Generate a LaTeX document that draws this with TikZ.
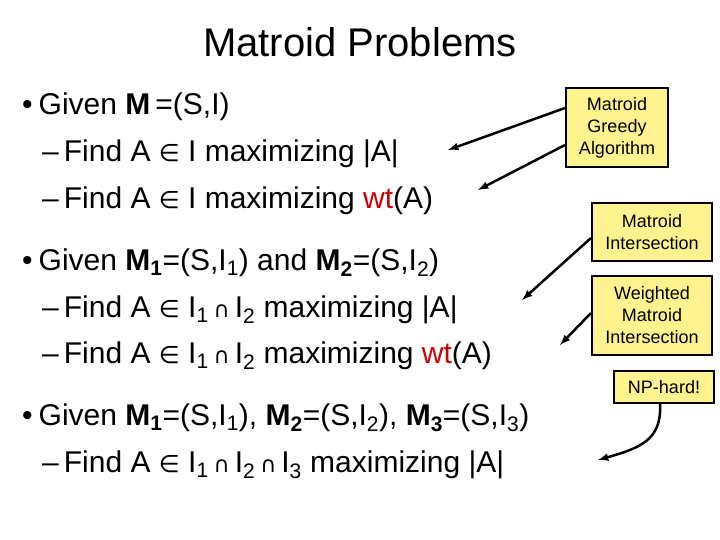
\documentclass[tikz,border=0pt]{standalone}
\usepackage{fontspec}
\setmainfont{Liberation Sans}
\newfontfamily\symf{DejaVu Sans}
\newcommand{\inn}{{\symf\fontsize{24}{26}\selectfont ∈}}
\newcommand{\cp}{{\symf\fontsize{22}{26}\selectfont ∩}}
\newcommand{\sub}[1]{\textsubscript{#1}}
\begin{document}
\begin{tikzpicture}[x=1pt,y=-1pt,
  line/.style={anchor=base west,inner sep=0pt,font=\fontsize{30}{32}\selectfont},
  box/.style={draw=black,line width=2pt,fill=yellow!40!white!95!orange,font=\fontsize{18}{22}\selectfont,align=center,inner sep=3pt},
  arr/.style={-latex,line width=2.5pt}]
\useasboundingbox[fill=white] (0,0) rectangle (720,540);
\node[anchor=base,font=\fontsize{40}{42}\selectfont] (title) at (360,57) {Matroid Problems};
\node[line] (l1) at (22,115) {•\hspace{6pt}Given \textbf{M}\,=(S,I)};
\node[line] (l2) at (42,162) {–\,Find A \inn\ I maximizing |A|};
\node[line] (l3) at (42,208) {–\,Find A \inn\ I maximizing \textcolor{red!80!black}{wt}(A)};
\node[line] (l4) at (22,270) {•\hspace{6pt}Given \textbf{M\sub{1}}=(S,I\sub{1}) and \textbf{M\sub{2}}=(S,I\sub{2})};
\node[line] (l5) at (42,317) {–\,Find A \inn\ I\sub{1}\,\cp\,I\sub{2} maximizing |A|};
\node[line] (l6) at (42,363) {–\,Find A \inn\ I\sub{1}\,\cp\,I\sub{2} maximizing \textcolor{red!80!black}{wt}(A)};
\node[line] (l7) at (22,425) {•\hspace{6pt}Given \textbf{M\sub{1}}=(S,I\sub{1}), \textbf{M\sub{2}}=(S,I\sub{2}), \textbf{M\sub{3}}=(S,I\sub{3})};
\node[line] (l8) at (42,472) {–\,Find A \inn\ I\sub{1}\,\cp\,I\sub{2}\,\cp\,I\sub{3} maximizing |A|};
\node[box,minimum width=102pt,minimum height=79pt] (g) at (617,127.5) {Matroid\\Greedy\\Algorithm};
\node[box,minimum width=120pt,minimum height=58pt] (mi) at (652,232) {Matroid\\Intersection};
\node[box,minimum width=120pt,minimum height=79pt] (wmi) at (652,315.5) {Weighted\\Matroid\\Intersection};
\node[box,minimum width=100pt,minimum height=32pt] (np) at (664,387) {NP-hard!};
\coordinate (a1) at (448,150);
\coordinate (a2) at (478,190);
\coordinate (a3) at (522,300);
\coordinate (a4) at (560,345);
\coordinate (a5) at (598,460);
\draw[arr] (g.west|-0,108) -- (a1);
\draw[arr] (g.west|-0,145) -- (a2);
\draw[arr] (mi.west|-0,238) -- (a3);
\draw[arr] (wmi.west|-0,313) -- (a4);
\draw[arr] (np.south-|660,0) .. controls (662,440) and (640,448) .. (a5);
\end{tikzpicture}
\end{document}
